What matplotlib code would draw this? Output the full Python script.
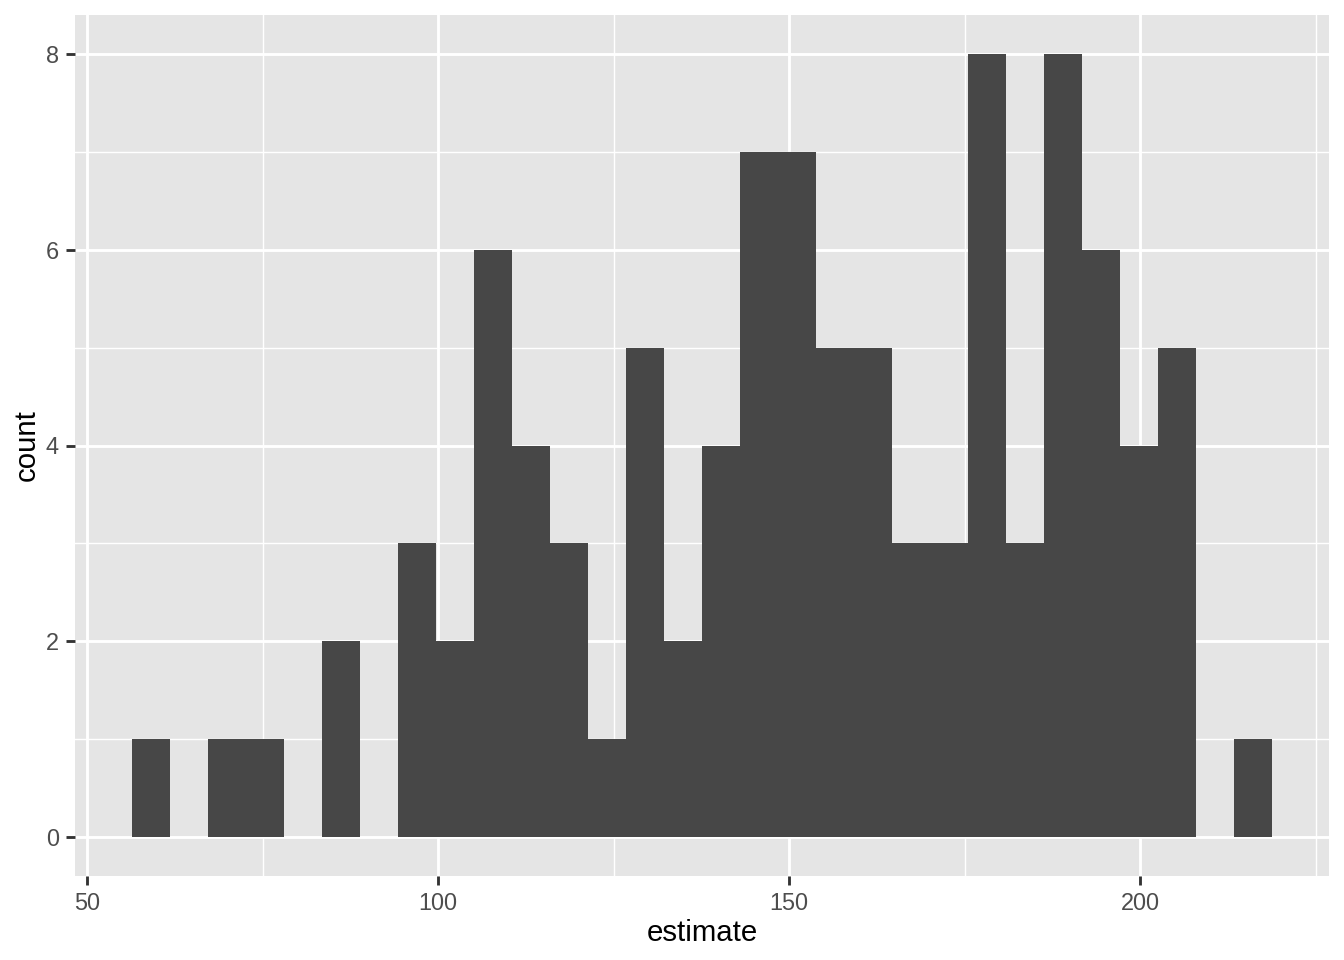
import matplotlib
matplotlib.use("Agg")
import matplotlib.pyplot as plt
from matplotlib.ticker import MultipleLocator

plt.rcParams['font.family'] = ['Liberation Sans', 'DejaVu Sans']

# histogram of estimates, 30 bins
bin_start = 56.4
bin_width = 5.413
counts = [1, 0, 1, 1, 0, 2, 0, 3, 2, 6,
          4, 3, 1, 5, 2, 4, 7, 7, 5, 5,
          3, 3, 8, 3, 8, 6, 4, 5, 0, 1]
x_ticks = [50, 100, 150, 200]
y_ticks = [0, 2, 4, 6, 8]

lefts = [bin_start + i * bin_width for i in range(len(counts))]

fig = plt.figure(figsize=(7, 5), dpi=192)
ax = fig.add_axes([75 / 1344, 1 - 876 / 960, (1329 - 75) / 1344, (876 - 15) / 960])
ax.set_facecolor("#E5E5E5")

ax.bar(lefts, counts, width=bin_width, align="edge", color="#474747", linewidth=0, zorder=3)

x0, x1 = lefts[0], lefts[-1] + bin_width
pad = (x1 - x0) * 0.05
ax.set_xlim(x0 - pad, x1 + pad)
ax.set_ylim(-0.4, 8.4)

ax.set_xticks(x_ticks)
ax.set_yticks(y_ticks)
ax.xaxis.set_minor_locator(MultipleLocator(25))
ax.yaxis.set_minor_locator(MultipleLocator(1))
ax.grid(which="major", color="white", linewidth=1.07, zorder=1)
ax.grid(which="minor", color="white", linewidth=0.53, zorder=1)
ax.set_axisbelow(True)

for s in ax.spines.values():
    s.set_visible(False)
ax.tick_params(which="major", length=3.5, width=1.07, color="#333333",
               labelsize=8.8, labelcolor="#4D4D4D", pad=2.5)
ax.tick_params(which="minor", length=0)

ax.set_xlabel("estimate", fontsize=11, color="black", labelpad=1.5)
ax.set_ylabel("count", fontsize=11, color="black", labelpad=2)

fig.savefig("out.png", dpi=192)
